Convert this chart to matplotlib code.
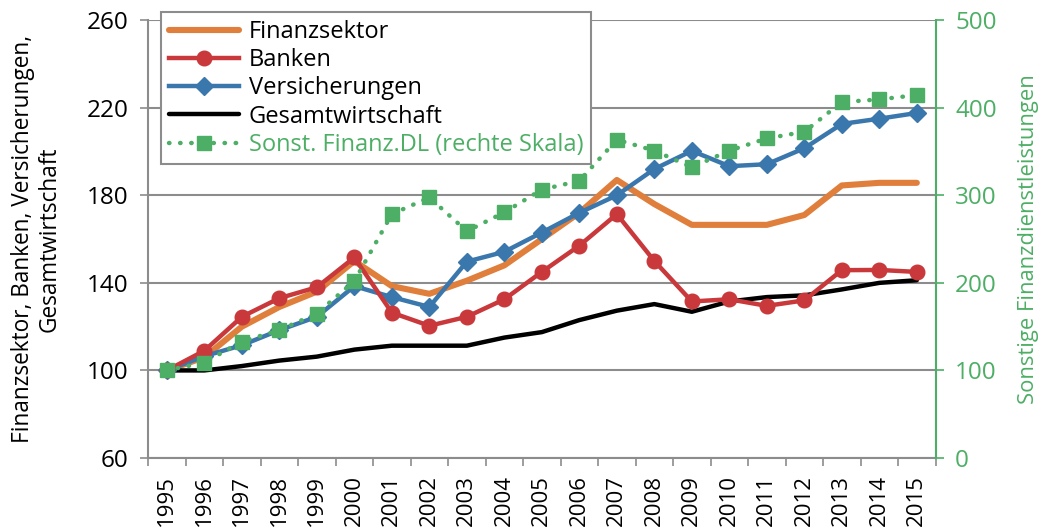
import numpy as np
import matplotlib.pyplot as plt

plt.rcParams['font.family'] = ['Open Sans', 'DejaVu Sans']

years = [str(y) for y in range(1995, 2016)]

finanzsektor = [100, 106, 120, 129, 136, 150, 138.5, 135, 141, 148, 160, 172, 187,
                176, 166.5, 166.5, 166.5, 171, 184.5, 185.7, 185.7]
banken = [100, 109, 124.5, 133, 138, 151.6, 126.4, 120.4, 124.5, 132.5, 145, 157, 171.4,
          150, 131.5, 132.5, 129.5, 132, 145.8, 145.9, 145]
versicherungen = [100, 106.5, 111.5, 118.4, 124.5, 138.5, 133.5, 129, 149.7, 154.2, 163, 172, 180,
                  192, 200.3, 193.3, 194.2, 201.5, 212.6, 215, 217.6]
gesamt = [100, 100, 102, 104.5, 106.3, 109.5, 111.3, 111.3, 111.3, 115, 117.5, 123, 127.3,
          130.3, 126.8, 131.5, 133.5, 134.3, 137, 140, 141.2]
sonst = [100, 109, 133, 146, 165, 202, 278.5, 297.5, 259, 280.5, 306.5, 316.5, 363.5,
         351, 332, 351, 365, 372.5, 406.5, 409.5, 414.5]

c_orange = '#E07E3C'
c_red = '#C9383A'
c_blue = '#3A77AD'
c_green = '#4DAE65'
c_grid = '#8C8C8C'

x = np.arange(len(years))

fig = plt.figure(figsize=(10.43, 5.31), dpi=100)
ax = fig.add_axes([0.142, 0.1375, 0.755, 0.8245])
ax2 = ax.twinx()

l1, = ax.plot(x, finanzsektor, color=c_orange, lw=4.4, solid_capstyle='round', label='Finanzsektor')
l4, = ax.plot(x, gesamt, color='black', lw=3.2, solid_capstyle='round', label='Gesamtwirtschaft')
l3, = ax.plot(x, versicherungen, color=c_blue, lw=3.2, marker='D', ms=9.5, label='Versicherungen')
l2, = ax.plot(x, banken, color=c_red, lw=3.2, marker='o', ms=10.5, label='Banken')
l5, = ax2.plot(x, sonst, color=c_green, lw=3.2, ls=(0, (0.1, 2.4)), dash_capstyle='round',
               marker='s', ms=10.5, label='Sonst. Finanz.DL (rechte Skala)')

ax.set_xlim(-0.5, len(years) - 0.5)
ax.set_ylim(60, 260)
ax.set_yticks(np.arange(60, 261, 40))
ax2.set_ylim(0, 500)
ax2.set_yticks(np.arange(0, 501, 100))

ax.yaxis.grid(True, color=c_grid, lw=1.5)
ax.set_axisbelow(True)

ax.set_xticks(x)
ax.set_xticklabels(years, rotation=90, fontsize=16)
ax.set_xticks(np.arange(-0.5, len(years)), minor=True)
ax.tick_params(axis='x', which='major', length=0, pad=12)
ax.tick_params(axis='x', which='minor', length=6, color=c_grid, width=1.2)
ax.tick_params(axis='y', labelsize=17.5, length=6, color=c_grid, width=1.2, pad=8)
ax2.tick_params(axis='y', labelsize=17.5, length=6, color=c_green, labelcolor=c_green, width=1.2, pad=8)

for s in ['top', 'right']:
    ax.spines[s].set_visible(False)
ax.spines['left'].set_color(c_grid)
ax.spines['bottom'].set_color(c_grid)
ax.spines['left'].set_linewidth(1.5)
ax.spines['bottom'].set_linewidth(1.5)
ax2.spines['top'].set_visible(False)
ax2.spines['left'].set_visible(False)
ax2.spines['bottom'].set_visible(False)
ax2.spines['right'].set_color(c_green)
ax2.spines['right'].set_linewidth(1.5)

ax.set_ylabel('Finanzsektor, Banken, Versicherungen,\nGesamtwirtschaft', fontsize=16.3,
              labelpad=18, linespacing=1.15)
ax2.set_ylabel('Sonstige Finanzdienstleistungen', fontsize=15.8, color=c_green, labelpad=15)

leg = ax2.legend([l1, l2, l3, l4, l5], [h.get_label() for h in [l1, l2, l3, l4, l5]],
                 loc='upper left', bbox_to_anchor=(0.0165, 1.018), borderaxespad=0,
                 fontsize=17, frameon=True, fancybox=False, edgecolor=c_grid, framealpha=1,
                 handlelength=3.0, handletextpad=0.4, labelspacing=0.18, borderpad=0.32)
leg.get_frame().set_linewidth(1.5)
leg.get_texts()[4].set_color(c_green)

fig.savefig('out.png', dpi=100)
